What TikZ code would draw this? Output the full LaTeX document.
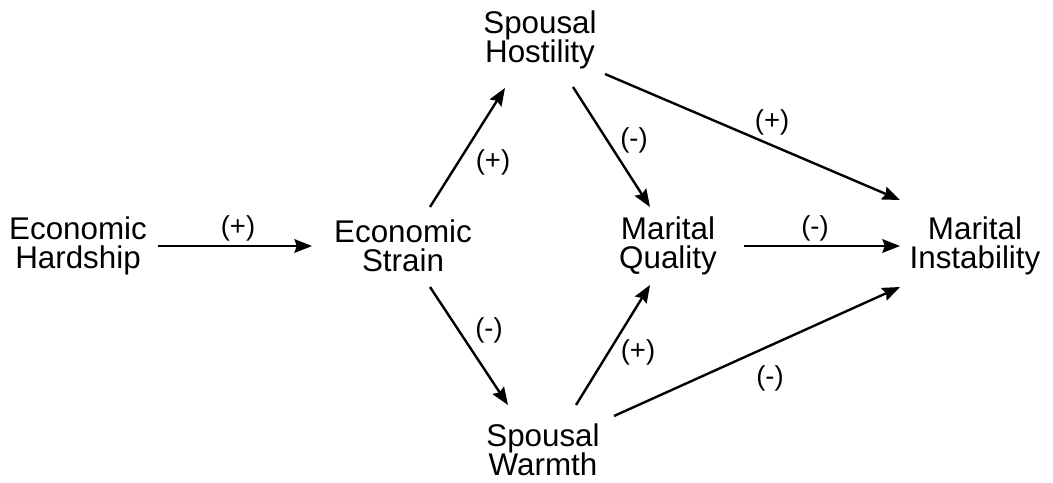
\documentclass[tikz,border=0pt]{standalone}
\usepackage{fontspec}
\setmainfont{Liberation Sans}
\usetikzlibrary{arrows.meta}

\begin{document}
\begin{tikzpicture}[x=0.025cm,y=-0.025cm,
    var/.style={align=center,inner sep=0pt,font=\fontsize{22.3}{21}\selectfont},
    sign/.style={inner sep=0pt,font=\fontsize{19.5}{19.5}\selectfont},
    arr/.style={line width=1.7pt,-{Stealth[length=0.44cm,width=0.34cm,inset=0.06cm]}}]
  \useasboundingbox (0,0) rectangle (1053,482);

  % Variables
  \node[var] (eh) at (78,246)  {Economic\\Hardship};
  \node[var] (es) at (403,246) {Economic\\Strain};
  \node[var] (sh) at (540,40)  {Spousal\\Hostility};
  \node[var] (sw) at (543,450) {Spousal\\Warmth};
  \node[var] (mq) at (668,246) {Marital\\Quality};
  \node[var] (mi) at (975,246) {Marital\\Instability};

  % Paths
  \draw[arr] ([shift={(80,0)}]eh.center) -- ([shift={(-91,0)}]es.center);
  \draw[arr] ([shift={(27,-39)}]es.center) -- ([shift={(-35,48)}]sh.center);
  \draw[arr] ([shift={(27,41)}]es.center) -- ([shift={(-35,-45)}]sw.center);
  \draw[arr] ([shift={(33,47)}]sh.center) -- ([shift={(-18,-39)}]mq.center);
  \draw[arr] ([shift={(33,-45)}]sw.center) -- ([shift={(-18,39)}]mq.center);
  \draw[arr] ([shift={(65,34)}]sh.center) -- ([shift={(-75,-46)}]mi.center);
  \draw[arr] ([shift={(76,0)}]mq.center) -- ([shift={(-75,0)}]mi.center);
  \draw[arr] ([shift={(71,-34)}]sw.center) -- ([shift={(-75,41)}]mi.center);

  % Signs
  \node[sign] (s1) at (238,228) {(+)};
  \node[sign] (s2) at (493,162) {(+)};
  \node[sign] (s3) at (489,330) {(-)};
  \node[sign] (s4) at (634,140) {(-)};
  \node[sign] (s5) at (638,352) {(+)};
  \node[sign] (s6) at (772,122) {(+)};
  \node[sign] (s7) at (815,228) {(-)};
  \node[sign] (s8) at (770,378) {(-)};
\end{tikzpicture}
\end{document}
